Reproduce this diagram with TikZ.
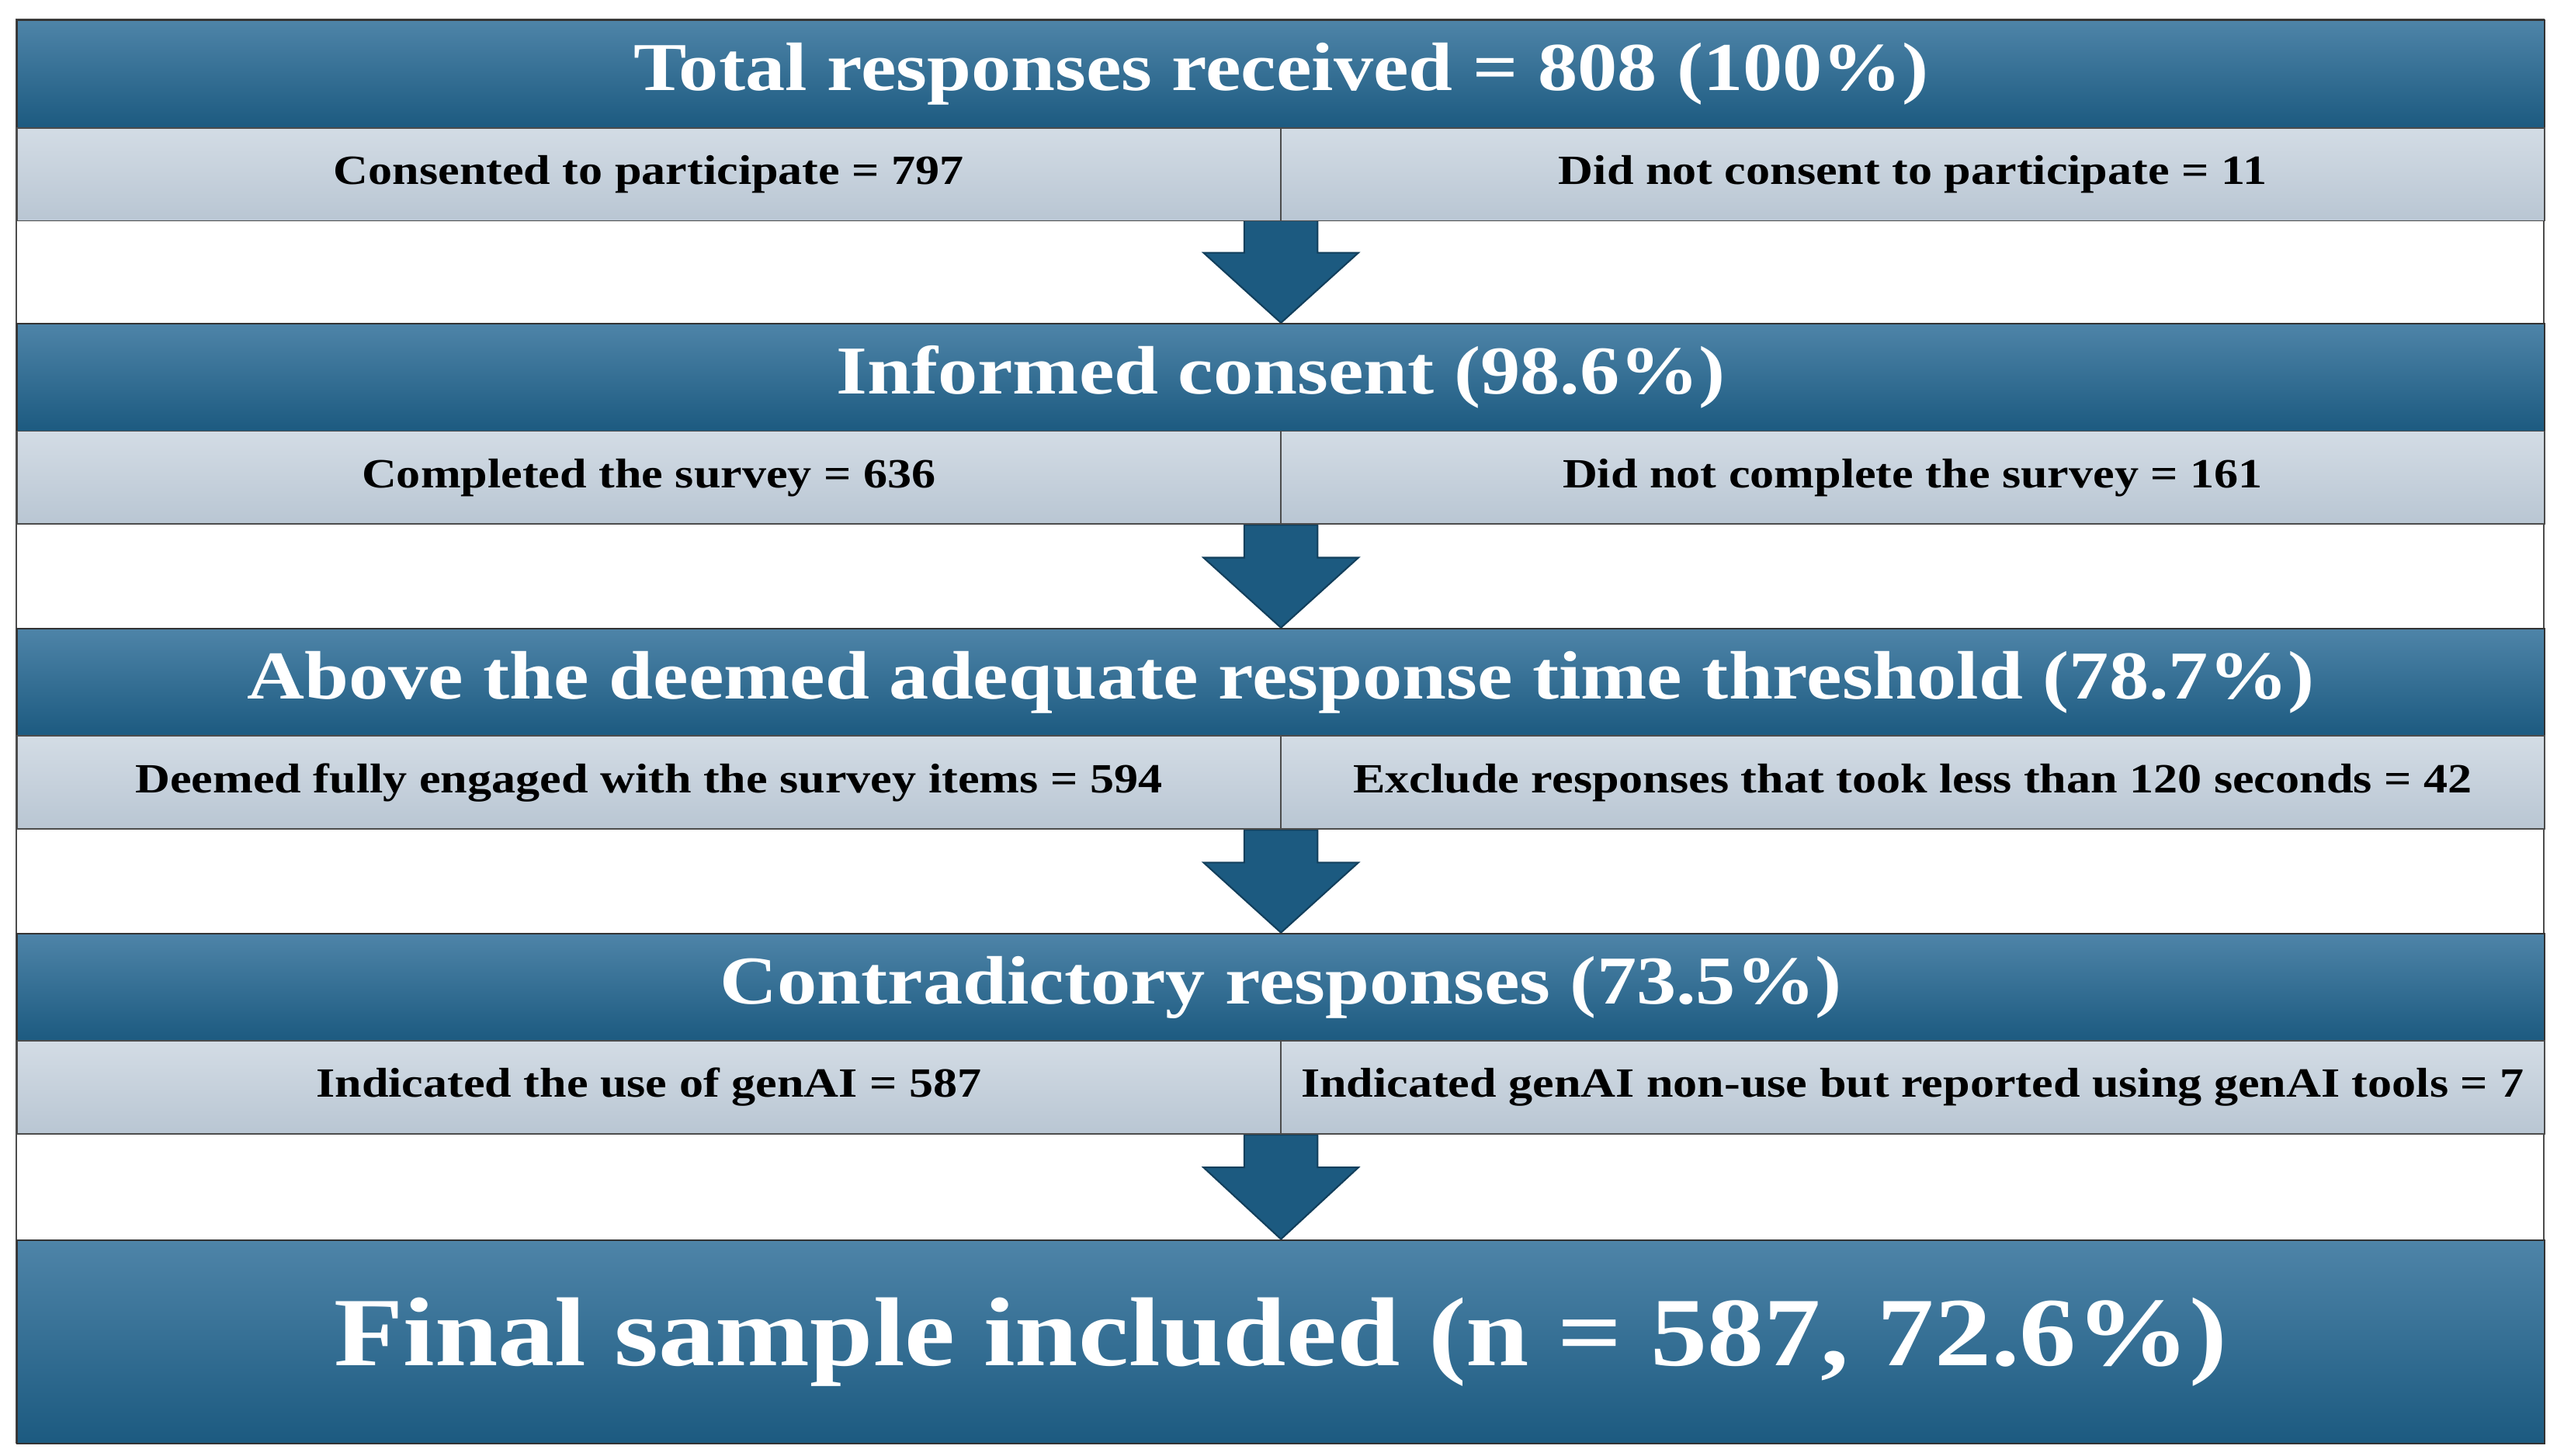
\documentclass[tikz,border=0pt]{standalone}
\usepackage{fontspec}
\setmainfont{Liberation Serif}[FakeStretch=1.16]
\begin{document}
\begin{tikzpicture}[x=1pt,y=-1pt,
  hdr/.style={draw=black!80,line width=1pt,top color=hblueT,bottom color=hblueB,text=white,font=\bfseries\fontsize{42}{46}\selectfont,inner sep=0pt},
  sub/.style={draw=black!70,line width=0.8pt,top color=sgT,bottom color=sgB,text=black,font=\bfseries\fontsize{25.5}{29}\selectfont,inner sep=0pt},
  dnarrow/.style={fill=hblueB,draw=ablue,line width=1pt}]
\definecolor{hblueT}{HTML}{4E84A8}
\definecolor{hblueB}{HTML}{1C5A80}
\definecolor{sgT}{HTML}{D3DCE5}
\definecolor{sgB}{HTML}{B9C6D3}
\definecolor{ablue}{HTML}{123F5C}
\useasboundingbox (0,0) rectangle (1568,893);
\draw[black!70,line width=0.8pt] (10,12) rectangle (1560,885);
\foreach \t/\b in {135/198,322/385,509/572,696/760}{
  \draw[dnarrow] (763,\t) -- (808,\t) -- (808,\t+20) -- (833,\t+20) -- (785.5,\b) -- (738,\t+20) -- (763,\t+20) -- cycle;
}
\newcommand{\stage}[5]{%
  \node[hdr,minimum width=1550pt,minimum height=66pt,anchor=north west] (#1h) at (10,#2) {#3};
  \node[sub,minimum width=775pt,minimum height=57pt,anchor=north west] (#1l) at (10,#2+66) {#4};
  \node[sub,minimum width=775pt,minimum height=57pt,anchor=north west] (#1r) at (785,#2+66) {#5};
}
\stage{a}{12}{Total responses received = 808 (100\%)}{Consented to participate = 797}{Did not consent to participate = 11}
\stage{b}{198}{Informed consent (98.6\%)}{Completed the survey = 636}{Did not complete the survey = 161}
\stage{c}{385}{Above the deemed adequate response time threshold (78.7\%)}{Deemed fully engaged with the survey items = 594}{Exclude responses that took less than 120 seconds = 42}
\stage{d}{572}{Contradictory responses (73.5\%)}{Indicated the use of genAI = 587}{Indicated genAI non-use but reported using genAI tools = 7}
\node[hdr,minimum width=1550pt,minimum height=125pt,anchor=north west,font=\bfseries\fontsize{60}{64}\selectfont] (fin) at (10,760) {Final sample included (n = 587, 72.6\%)};
\end{tikzpicture}
\end{document}
